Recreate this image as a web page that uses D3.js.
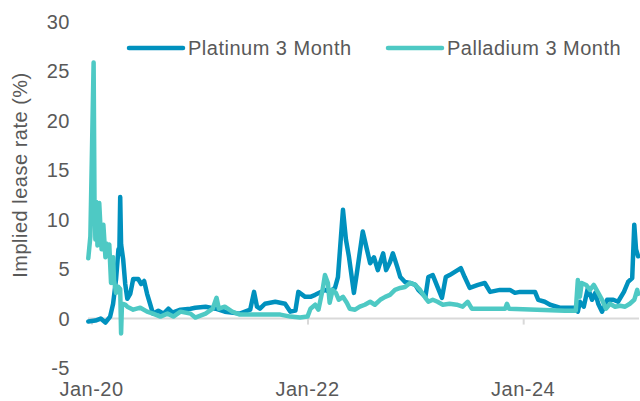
<!DOCTYPE html>
<html>
<head>
<meta charset="utf-8">
<script src="https://cdn.jsdelivr.net/npm/d3@7"></script>
<style>
  body { margin: 0; background: #fff; }
  svg { display: block; font-family: "Liberation Sans", Arial, sans-serif; letter-spacing: 0.5px; }
</style>
</head>
<body>
<svg id="chart" width="640" height="401"></svg>
<script>
var seriesNames = ['Platinum 3 Month', 'Palladium 3 Month'];
var xTickLabels = ['2020-01-01', '2022-01-01', '2024-01-01'];
var yTicks = [-5, 0, 5, 10, 15, 20, 25, 30];

var platDates = ['2019-12-21', '2020-01-14', '2020-02-01', '2020-02-17', '2020-03-04', '2020-03-14', '2020-03-24',
  '2020-04-01', '2020-04-04', '2020-04-07', '2020-04-10', '2020-04-17', '2020-04-24', '2020-05-01', '2020-05-11',
  '2020-05-21', '2020-06-07', '2020-06-17', '2020-06-27', '2020-07-07', '2020-07-17', '2020-07-27', '2020-08-14',
  '2020-09-01', '2020-09-17', '2020-10-01', '2020-10-28', '2020-12-01', '2020-12-17', '2021-01-21', '2021-02-24',
  '2021-03-27', '2021-05-17', '2021-06-21', '2021-07-04', '2021-07-14', '2021-07-24', '2021-08-10', '2021-09-14',
  '2021-10-17', '2021-11-04', '2021-11-21', '2021-12-01', '2021-12-24', '2022-01-11', '2022-01-27', '2022-03-01',
  '2022-03-17', '2022-04-04', '2022-04-14', '2022-05-01', '2022-05-11', '2022-05-21', '2022-06-07', '2022-06-17',
  '2022-07-07', '2022-07-21', '2022-08-01', '2022-08-14', '2022-08-27', '2022-09-14', '2022-09-24', '2022-10-07',
  '2022-10-17', '2022-11-01', '2022-11-11', '2022-11-27', '2022-12-14', '2023-01-01', '2023-01-11', '2023-02-04',
  '2023-02-14', '2023-03-01', '2023-03-17', '2023-04-01', '2023-04-14', '2023-04-27', '2023-06-04', '2023-06-17',
  '2023-07-04', '2023-08-01', '2023-08-24', '2023-09-11', '2023-10-14', '2023-11-17', '2023-12-04', '2023-12-21',
  '2024-02-10', '2024-02-21', '2024-03-14', '2024-04-01', '2024-05-04', '2024-06-24', '2024-07-04', '2024-07-11',
  '2024-07-24', '2024-08-07', '2024-08-21', '2024-09-01', '2024-09-11', '2024-09-24', '2024-10-11', '2024-11-01',
  '2024-11-17', '2024-12-07', '2024-12-21', '2025-01-04', '2025-01-11', '2025-01-17', '2025-01-24'];
var platRates = [-0.3, -0.2, 0.0, -0.4, 0.2, 1.5, 4.0,
  7.0, 6.5, 12.3, 7.5, 6.0, 3.5, 2.0, 2.5,
  4.0, 4.0, 3.5, 3.8, 2.5, 1.5, 0.5, 0.8,
  0.5, 1.0, 0.6, 0.9, 1.0, 1.1, 1.2, 1.0,
  0.7, 0.5, 0.9, 2.7, 1.2, 1.0, 1.5, 1.7,
  1.5, 0.7, 0.8, 2.7, 2.2, 2.2, 2.4, 2.9,
  2.7, 3.1, 4.2, 11.0, 8.0, 6.3, 2.6, 4.6,
  8.8, 7.0, 5.6, 6.2, 4.9, 6.6, 4.9, 5.7,
  6.6, 5.2, 4.2, 3.7, 3.6, 3.4, 2.9, 2.2,
  4.2, 4.4, 3.2, 2.1, 4.2, 4.4, 5.1, 4.2,
  3.1, 3.4, 3.6, 2.7, 2.9, 2.9, 2.6, 2.7,
  2.7, 1.9, 1.7, 1.4, 1.1, 1.1, 0.7, 1.7,
  1.2, 3.1, 1.9, 2.6, 1.5, 0.7, 1.9, 1.9,
  1.7, 2.7, 3.7, 4.1, 9.5, 7.0, 6.3];

var pallDates = ['2019-12-21', '2019-12-28', '2020-01-08', '2020-01-11', '2020-01-14', '2020-01-17', '2020-01-21',
  '2020-01-27', '2020-02-04', '2020-02-10', '2020-02-17', '2020-02-20', '2020-02-26', '2020-03-01', '2020-03-07',
  '2020-03-14', '2020-03-17', '2020-03-24', '2020-04-01', '2020-04-07', '2020-04-10', '2020-04-13', '2020-04-24',
  '2020-05-01', '2020-05-21', '2020-06-14', '2020-07-07', '2020-07-27', '2020-08-21', '2020-09-14', '2020-10-04',
  '2020-10-28', '2020-12-01', '2020-12-17', '2021-01-21', '2021-02-14', '2021-02-27', '2021-03-07', '2021-03-27',
  '2021-04-21', '2021-05-17', '2021-08-27', '2021-10-01', '2021-11-04', '2021-12-07', '2022-01-01', '2022-01-11',
  '2022-01-27', '2022-02-07', '2022-02-21', '2022-03-01', '2022-03-11', '2022-03-17', '2022-03-27', '2022-04-07',
  '2022-04-17', '2022-05-01', '2022-05-14', '2022-05-24', '2022-06-11', '2022-06-27', '2022-07-14', '2022-08-01',
  '2022-08-17', '2022-09-04', '2022-09-21', '2022-10-07', '2022-10-24', '2022-11-11', '2022-11-27', '2022-12-14',
  '2023-01-01', '2023-01-17', '2023-02-04', '2023-02-14', '2023-03-01', '2023-03-17', '2023-04-04', '2023-04-27',
  '2023-05-21', '2023-06-10', '2023-06-27', '2023-07-11', '2023-11-01', '2023-11-07', '2023-11-14', '2024-05-21',
  '2024-06-27', '2024-07-04', '2024-07-11', '2024-07-17', '2024-08-01', '2024-08-14', '2024-08-27', '2024-09-11',
  '2024-09-24', '2024-10-07', '2024-10-21', '2024-11-07', '2024-11-24', '2024-12-11', '2024-12-27', '2025-01-11',
  '2025-01-21', '2025-01-24'];
var pallRates = [6.1, 8.3, 25.9, 12.0, 8.0, 11.8, 7.4,
  11.7, 7.0, 9.5, 6.2, 7.6, 6.5, 7.5, 3.6,
  6.2, 3.9, 2.6, 3.2, 3.0, -1.5, 1.5, 1.4,
  1.2, 0.9, 1.1, 0.7, 0.5, 0.2, 0.5, 0.2,
  0.7, 0.5, 0.1, 0.5, 1.0, 2.1, 1.0, 1.2,
  0.7, 0.4, 0.4, 0.4, 0.2, 0.1, 0.2, 1.0,
  1.4, 0.9, 2.9, 4.4, 3.6, 1.6, 2.9, 2.6,
  1.9, 2.2, 1.6, 1.0, 0.9, 1.2, 1.4, 1.7,
  1.4, 1.9, 2.2, 2.4, 2.9, 3.1, 3.2, 3.6,
  3.4, 2.9, 2.1, 1.7, 1.9, 1.7, 1.4, 1.5,
  1.4, 1.2, 1.7, 1.0, 1.0, 1.5, 1.0, 0.8,
  0.8, 3.9, 2.2, 3.6, 3.4, 2.9, 3.4, 2.6,
  1.9, 1.0, 1.5, 1.2, 1.3, 1.2, 1.5, 1.9,
  2.9, 2.5];

var platColor = '#0091be',
    pallColor = '#4ec9c4',
    textColor = '#595959',
    axisColor = '#d9d9d9';

var svg = d3.select('#chart'),
    parse = d3.timeParse('%Y-%m-%d'),
    fmt = d3.timeFormat('%b-%y');

var x = d3.scaleTime()
  .domain([parse('2019-12-20'), parse('2025-01-27')])
  .range([88, 639]);

var y = d3.scaleLinear()
  .domain([-5, 30])
  .range([368, 22]);

function pairs(dates, values) {
  return dates.map(function (d, i) {
    return { date: parse(d), value: values[i] };
  });
}

var platData = pairs(platDates, platRates),
    pallData = pairs(pallDates, pallRates);

// y tick labels (no visible axis line)
svg.append('g')
  .selectAll('text')
  .data(yTicks)
  .enter()
  .append('text')
  .attr('x', 70)
  .attr('y', function (d) { return y(d); })
  .attr('dy', '0.35em')
  .attr('text-anchor', 'end')
  .attr('fill', textColor)
  .attr('font-size', 20)
  .text(function (d) { return d; });

// y title
svg.append('text')
  .attr('transform', 'translate(27,175) rotate(-90)')
  .attr('text-anchor', 'middle')
  .attr('fill', textColor)
  .attr('font-size', 20)
  .text('Implied lease rate (%)');

// zero line with ticks
var xAxis = svg.append('g')
  .attr('transform', 'translate(0,' + y(0) + ')')
  .call(d3.axisBottom(x)
    .tickValues(xTickLabels.map(parse))
    .tickSize(6)
    .tickFormat(''));

xAxis.select('.domain')
  .attr('d', 'M' + x.range()[0] + ',0H' + x.range()[1])
  .attr('stroke', axisColor)
  .attr('stroke-width', 2);
xAxis.selectAll('.tick line')
  .attr('stroke', axisColor)
  .attr('stroke-width', 2);

// x labels at the bottom
svg.append('g')
  .selectAll('text')
  .data(xTickLabels.map(parse))
  .enter()
  .append('text')
  .attr('x', function (d) { return x(d); })
  .attr('y', 396)
  .attr('text-anchor', 'middle')
  .attr('fill', textColor)
  .attr('font-size', 20)
  .text(function (d) { return fmt(d); });

var line = d3.line()
  .x(function (d) { return x(d.date); })
  .y(function (d) { return y(d.value); });

svg.append('path')
  .datum(platData)
  .attr('d', line)
  .attr('fill', 'none')
  .attr('stroke', platColor)
  .attr('stroke-width', 4.5)
  .attr('stroke-linejoin', 'round')
  .attr('stroke-linecap', 'round');

svg.append('path')
  .datum(pallData)
  .attr('d', line)
  .attr('fill', 'none')
  .attr('stroke', pallColor)
  .attr('stroke-width', 4.5)
  .attr('stroke-linejoin', 'round')
  .attr('stroke-linecap', 'round');

// legend
var legendItems = [
  { name: seriesNames[0], color: platColor, x: 129 },
  { name: seriesNames[1], color: pallColor, x: 388 }
];

var legend = svg.append('g')
  .selectAll('g')
  .data(legendItems)
  .enter()
  .append('g')
  .attr('transform', function (d) { return 'translate(' + d.x + ',48)'; });

legend.append('line')
  .attr('x1', 0)
  .attr('x2', 54)
  .attr('stroke', function (d) { return d.color; })
  .attr('stroke-width', 4.5)
  .attr('stroke-linecap', 'round');

legend.append('text')
  .attr('x', 59)
  .attr('y', 7)
  .attr('fill', textColor)
  .attr('font-size', 20)
  .text(function (d) { return d.name; });
</script>
</body>
</html>
